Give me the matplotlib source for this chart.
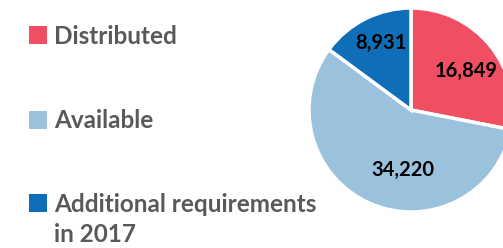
import matplotlib
matplotlib.use("Agg")
import matplotlib.pyplot as plt
from matplotlib.patches import Rectangle
import numpy as np

categories = ["Distributed", "Available", "Additional requirements\nin 2017"]
values = [16849, 34220, 8931]
value_labels = ["16,849", "34,220", "8,931"]
colors = ["#F04E63", "#9BC2DD", "#0E6FB8"]

W, H = 503, 248
fig = plt.figure(figsize=(W / 100, H / 100), dpi=100)

# pie axes: center (411,110) px from top, radius ~102 px
cx, cy, r = 411, 110, 102
ax = fig.add_axes([(cx - r) / W, (H - cy - r) / H, 2 * r / W, 2 * r / H])
wedges, _ = ax.pie(values, colors=colors, startangle=90, counterclock=False,
                   radius=1, wedgeprops=dict(edgecolor="white", linewidth=2.5))
ax.set_xlim(-1, 1)
ax.set_ylim(-1, 1)
ax.set_aspect("equal")
ax.axis("off")

# label positions (radius fraction, angle offset in degrees)
label_pos = [(0.66, -4), (0.59, 16), (0.72, -3)]
for w, lab, (rf, off) in zip(wedges, value_labels, label_pos):
    ang = np.deg2rad((w.theta1 + w.theta2) / 2 + off)
    ax.text(rf * np.cos(ang), rf * np.sin(ang), lab, ha="center", va="center",
            fontsize=14.5, fontweight="bold", family="Lato", color="black")

# legend
legend_y = [35, 120, 203]
for cat, col, yc in zip(categories, colors, legend_y):
    fig.patches.append(Rectangle((29 / W, (H - yc - 9) / H), 18 / W, 18 / H,
                                 transform=fig.transFigure, facecolor=col,
                                 edgecolor="none"))
    for i, line in enumerate(cat.split("\n")):
        fig.text(54 / W, (H - yc - 1 - i * 31) / H, line, ha="left", va="center",
                 fontsize=17.5, fontweight="bold", family="Lato", color="#595959")

fig.savefig("out.png", dpi=100)
